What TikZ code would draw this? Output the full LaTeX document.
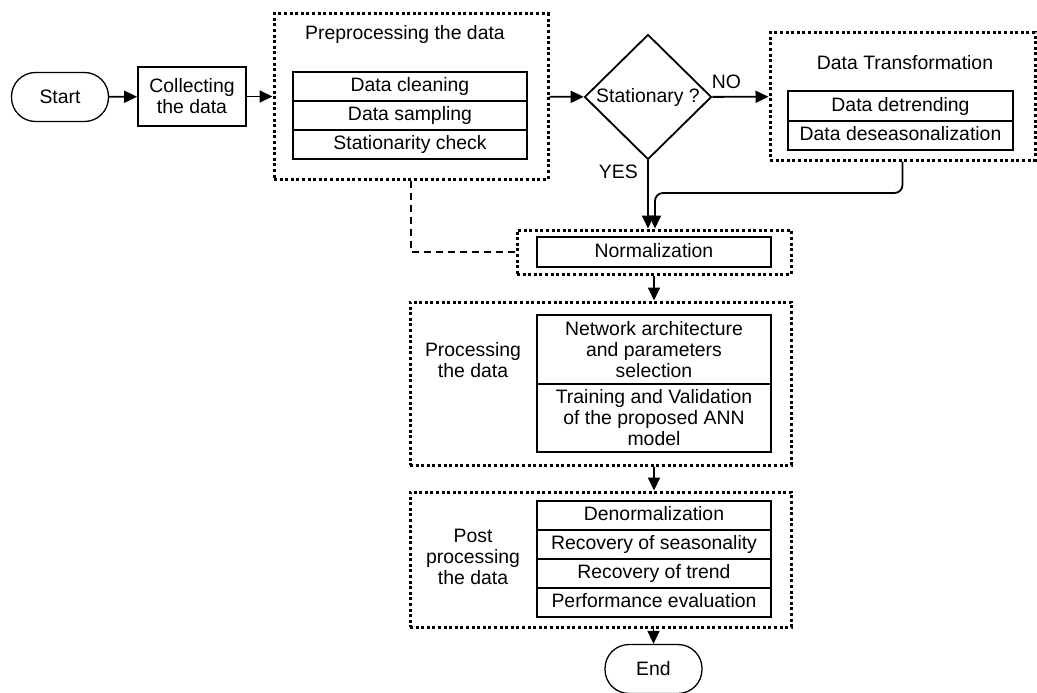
\documentclass[tikz,border=0pt]{standalone}
\usepackage{fontspec}
\setmainfont{Liberation Sans}
\usepackage{tikz}
\usetikzlibrary{shapes,arrows.meta,positioning}
\tikzset{flow-line/.style={line width=1.8pt}}
\tikzset{>={Triangle[length=13pt,width=12pt]}}
\tikzset{term-node/.style={draw, line width=1.3pt, rounded corners=24pt, minimum width=97pt, minimum height=49pt}}
\tikzset{step-node/.style={draw, line width=1.8pt, align=center, inner sep=2pt}}
\tikzset{row-node/.style={step-node, outer sep=0, minimum width=234pt, minimum height=29pt, text height=14pt, text depth=4pt}}
\tikzset{tall-row/.style={row-node, text height=, text depth=}}
\tikzset{group-box/.style={draw, inner sep=0, line width=3pt, dash pattern=on 3pt off 2.6pt}}
\tikzset{decision-node/.style={draw, diamond, line width=1.8pt, inner sep=0, minimum width=127pt, minimum height=125pt}}
\tikzset{dashed-line/.style={line width=2pt, dash pattern=on 7pt off 5pt}}

\begin{document}
\begin{tikzpicture}[x=1pt, y=-1pt, font=\fontsize{19.4}{21}\selectfont]
    \useasboundingbox (0,0) rectangle (1037,693);

    \node[term-node] (start) at (60,97) {Start};
    \node[step-node, minimum width=108pt, minimum height=59pt] (collect) at (192,96.5) {Collecting\\the data};

    % preprocessing
    \node[group-box, minimum width=274pt, minimum height=165pt] (prebox) at (411,96.5) {};
    \node (pretitle) at (405,34) {Preprocessing the data};
    \node[row-node] (clean) at (410,86.5) {Data cleaning};
    \node[row-node, below=0pt of clean] (sample) {Data sampling};
    \node[row-node, below=0pt of sample] (check) {Stationarity check};

    \node[decision-node, label=center:{Stationary ?}] (stat) at (648,97) {};

    % transformation
    \node[group-box, minimum width=265pt, minimum height=127pt] (dtbox) at (902.5,96.5) {};
    \node (dttitle) at (905,63) {Data Transformation};
    \node[row-node, minimum width=225pt, minimum height=30pt] (detrend) at (900.5,106) {Data detrending};
    \node[row-node, minimum width=225pt, below=0pt of detrend] (deseason) {Data deseasonalization};

    % normalization
    \node[group-box, minimum width=274pt, minimum height=44pt] (normbox) at (654,252) {};
    \node[row-node, minimum height=30pt] (norm) at (654,252) {Normalization};

    % processing
    \node[group-box, minimum width=381pt, minimum height=163pt] (procbox) at (600.5,383.5) {};
    \node[align=center] (proclabel) at (473,360) {Processing\\the data};
    \node[tall-row, minimum height=69pt] (arch) at (654,349.5) {Network architecture\\and parameters\\selection};
    \node[tall-row, minimum height=68pt, below=0pt of arch] (train) {Training and Validation\\of the proposed ANN\\model};

    % post processing
    \node[group-box, minimum width=381pt, minimum height=135pt] (postbox) at (600.5,559.5) {};
    \node[align=center] (postlabel) at (473,557) {Post\\processing\\the data};
    \node[row-node] (denorm) at (654,515.5) {Denormalization};
    \node[row-node, below=0pt of denorm] (season) {Recovery of seasonality};
    \node[row-node, below=0pt of season] (trend) {Recovery of trend};
    \node[row-node, below=0pt of trend] (perf) {Performance evaluation};

    \node[term-node] (end) at (653.5,669) {End};

    \coordinate (merge) at (655,193);

    \draw[->, flow-line] (start) -- (collect);
    \draw[->, flow-line] (collect) -- (prebox);
    \draw[->, flow-line] (prebox) -- (stat);
    \draw[->, flow-line] (stat) -- node[pos=.25, above=4pt] (no) {NO} (dtbox);
    \draw[->, flow-line] (stat) -- node[pos=.17, left=6pt] (yes) {YES} (stat.south |- normbox.north);
    \draw[->, flow-line, rounded corners=8pt] (dtbox.south) |- (merge) -- (merge |- normbox.north);
    \draw[dashed-line] (prebox.south) |- (normbox.west);
    \draw[->, flow-line] (normbox) -- (normbox |- procbox.north);
    \draw[->, flow-line] (normbox |- procbox.south) -- (normbox |- postbox.north);
    \draw[->, flow-line] (end |- postbox.south) -- (end);
\end{tikzpicture}
\end{document}
